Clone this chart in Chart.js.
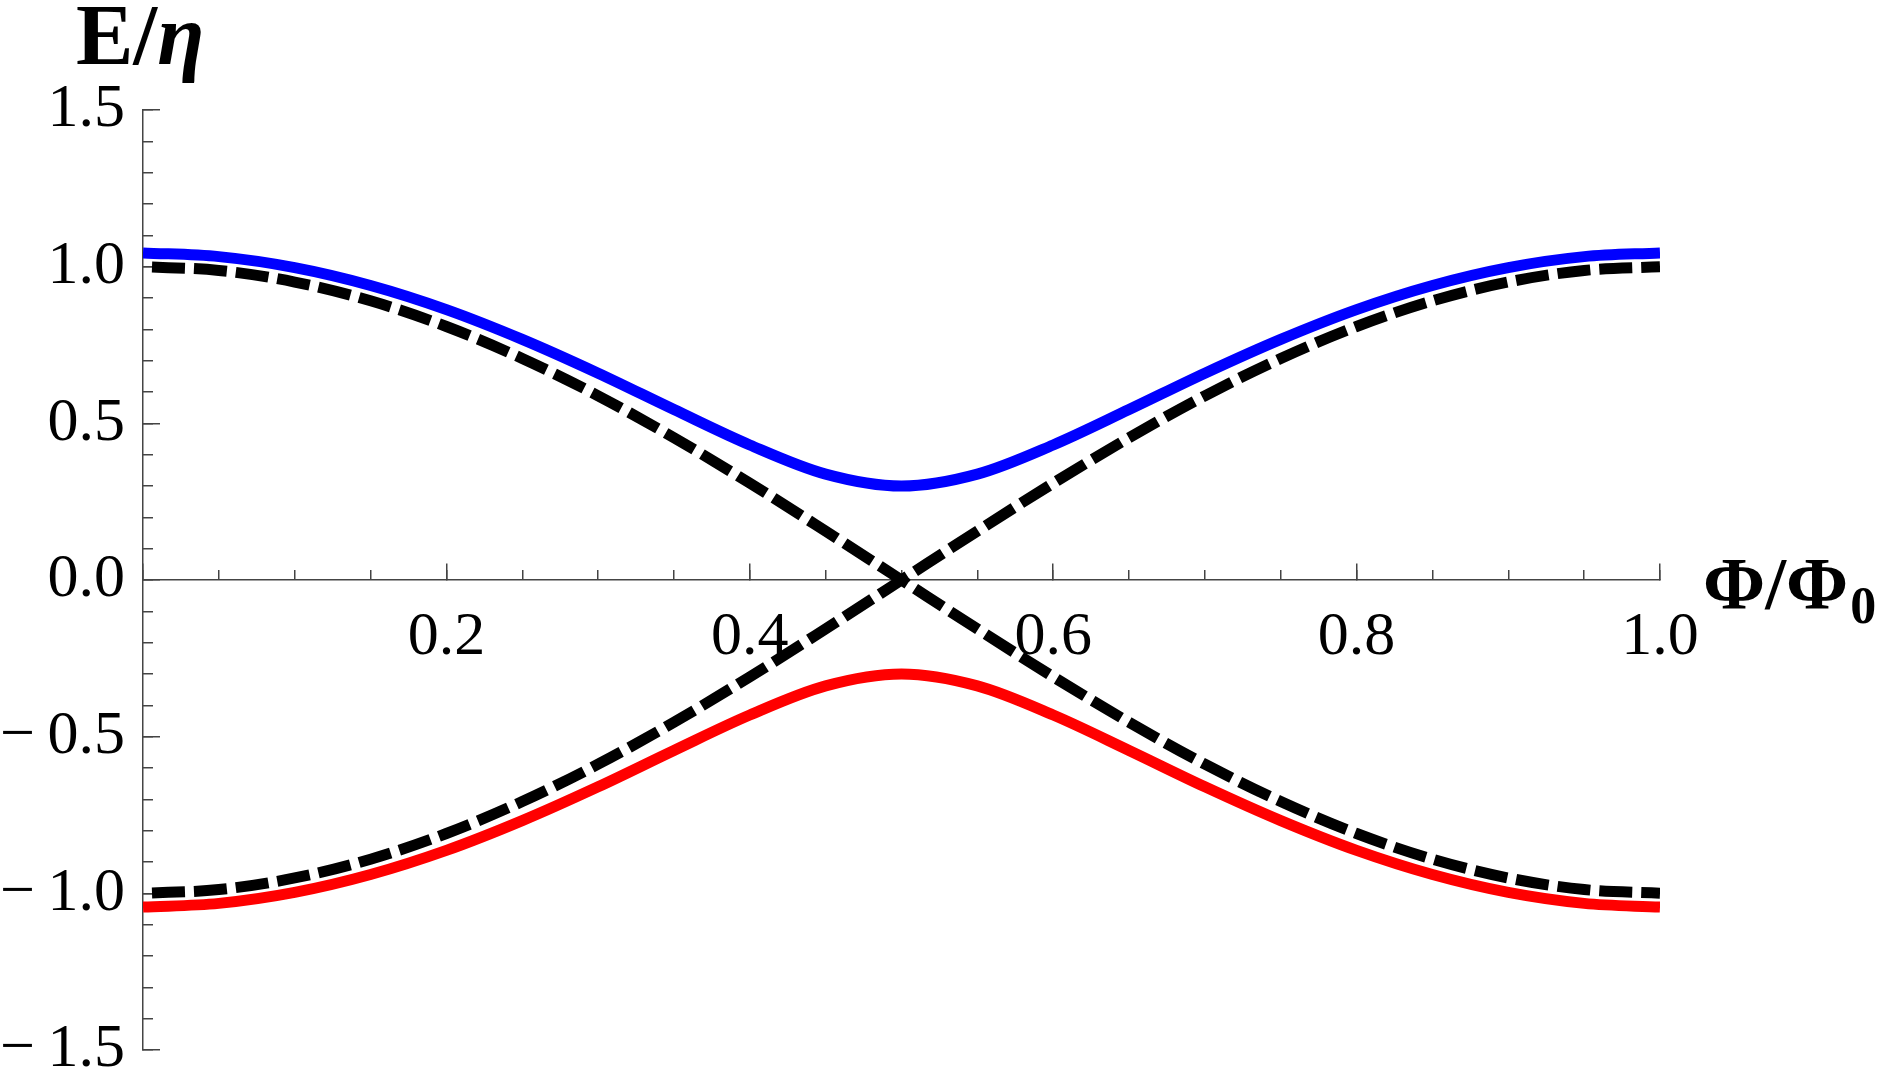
<!DOCTYPE html>
<html>
<head>
<meta charset="utf-8">
<script src="https://cdn.jsdelivr.net/npm/chart.js@4"></script>
<style>
  html, body { margin: 0; padding: 0; background: #fff; }
  #wrap { width: 1887px; height: 1080px; position: relative; }
</style>
</head>
<body>
<div id="wrap"><canvas id="myChart"></canvas></div>
<script>
// flux values (Phi/Phi0)
const phi = [0, 0.05, 0.1, 0.15, 0.2, 0.25, 0.3, 0.35, 0.4, 0.45, 0.5,
             0.55, 0.6, 0.65, 0.7, 0.75, 0.8, 0.85, 0.9, 0.95, 1];
// upper band (blue)
const upperBand = [1.044, 1.032, 0.997, 0.940, 0.863, 0.768, 0.660, 0.544, 0.431, 0.338, 0.300,
                   0.338, 0.431, 0.544, 0.660, 0.768, 0.863, 0.940, 0.997, 1.032, 1.044];
// lower band (red)
const lowerBand = [-1.044, -1.032, -0.997, -0.940, -0.863, -0.768, -0.660, -0.544, -0.431, -0.338, -0.300,
                   -0.338, -0.431, -0.544, -0.660, -0.768, -0.863, -0.940, -0.997, -1.032, -1.044];
// dashed crossing levels
const dashFalling = [1.000, 0.988, 0.951, 0.891, 0.809, 0.707, 0.588, 0.454, 0.309, 0.156, 0.000,
                     -0.156, -0.309, -0.454, -0.588, -0.707, -0.809, -0.891, -0.951, -0.988, -1.000];
const dashRising = [-1.000, -0.988, -0.951, -0.891, -0.809, -0.707, -0.588, -0.454, -0.309, -0.156, 0.000,
                    0.156, 0.309, 0.454, 0.588, 0.707, 0.809, 0.891, 0.951, 0.988, 1.000];

const yTickLabels = {'1.5': '1.5', '1': '1.0', '0.5': '0.5', '0': '0.0',
                     '-0.5': '\u2212\u20090.5', '-1': '\u2212\u20091.0', '-1.5': '\u2212\u20091.5'};

const FONT = '"Liberation Serif", "Times New Roman", serif';
const axisColor = '#444';

function pts(ys) {
    return phi.map((x, i) => ({x: x, y: ys[i]}));
}

function noPad(scale) {
    scale.paddingTop = 0;
    scale.paddingBottom = 0;
    scale.paddingLeft = 0;
    scale.paddingRight = 0;
}

// axis titles drawn as rich text (bold / italic mix)
const axisTitles = {
    id: 'axisTitles',
    afterDraw(chart) {
        const c = chart.ctx;
        c.save();
        c.fillStyle = '#000';
        c.textBaseline = 'alphabetic';
        c.textAlign = 'left';
        // E/eta
        c.font = 'bold 86px ' + FONT;
        let x = 76;
        c.fillText('E/', x, 64);
        x += c.measureText('E/').width;
        c.font = 'italic bold 86px ' + FONT;
        c.fillText('\u03B7', x, 64);
        // Phi/Phi0
        c.font = 'bold 75px ' + FONT;
        x = 1703;
        c.fillText('\u03A6/\u03A6', x, 609);
        x += c.measureText('\u03A6/\u03A6').width + 2;
        c.font = 'bold 52px ' + FONT;
        c.fillText('0', x, 623);
        c.restore();
    }
};

const ctx = document.querySelector('#myChart').getContext('2d');
const myChart = new Chart(ctx, {
    type: 'line',
    data: {
        datasets: [{
            label: 'upper',
            data: pts(upperBand),
            borderColor: '#0000ff',
            borderWidth: 11,
        }, {
            label: 'lower',
            data: pts(lowerBand),
            borderColor: '#ff0000',
            borderWidth: 11,
        }, {
            label: 'falling',
            data: pts(dashFalling),
            borderColor: '#000',
            borderWidth: 11,
            borderDash: [33, 9],
            borderDashOffset: 33,
        }, {
            label: 'rising',
            data: pts(dashRising),
            borderColor: '#000',
            borderWidth: 11,
            borderDash: [33, 9],
            borderDashOffset: 33,
        }]
    },
    options: {
        responsive: true,
        maintainAspectRatio: false,
        animation: false,
        layout: {
            padding: {left: 0, top: 110, right: 227, bottom: 30}
        },
        elements: {
            point: {radius: 0},
            line: {cubicInterpolationMode: 'monotone', borderCapStyle: 'butt', fill: false}
        },
        plugins: {
            legend: {display: false},
            tooltip: {enabled: false}
        },
        scales: {
            x: {
                type: 'linear',
                min: 0,
                max: 1,
                position: {y: 0},
                border: {display: true, color: axisColor, width: 1.5},
                grid: {drawOnChartArea: false, drawTicks: true, tickLength: -17, color: axisColor, lineWidth: 1.5},
                ticks: {
                    stepSize: 0.2,
                    padding: 38,
                    color: '#000',
                    font: {family: FONT, size: 62},
                    maxRotation: 0,
                    autoSkip: false,
                    callback: (v) => v === 0 ? '' : v.toFixed(1)
                },
                afterFit: noPad
            },
            y: {
                type: 'linear',
                min: -1.5,
                max: 1.5,
                position: 'left',
                border: {display: true, color: axisColor, width: 1.5},
                grid: {drawOnChartArea: false, drawTicks: true, tickLength: -17, color: axisColor, lineWidth: 1.5},
                ticks: {
                    stepSize: 0.5,
                    padding: 35,
                    color: '#000',
                    font: {family: FONT, size: 62},
                    autoSkip: false,
                    callback: (v) => yTickLabels[String(v)]
                },
                afterFit: (scale) => { scale.width = 143; noPad(scale); }
            },
            xm: {
                type: 'linear',
                min: 0,
                max: 1,
                position: {y: 0},
                border: {display: false},
                grid: {drawOnChartArea: false, drawTicks: true, tickLength: -10, color: axisColor, lineWidth: 1.5},
                ticks: {stepSize: 0.05, display: false, autoSkip: false},
                afterFit: noPad
            },
            ym: {
                type: 'linear',
                min: -1.5,
                max: 1.5,
                position: {x: 0},
                border: {display: false},
                grid: {drawOnChartArea: false, drawTicks: true, tickLength: -10, color: axisColor, lineWidth: 1.5},
                ticks: {stepSize: 0.1, display: false, autoSkip: false},
                afterFit: noPad
            }
        }
    },
    plugins: [axisTitles]
});
</script>
</body>
</html>
